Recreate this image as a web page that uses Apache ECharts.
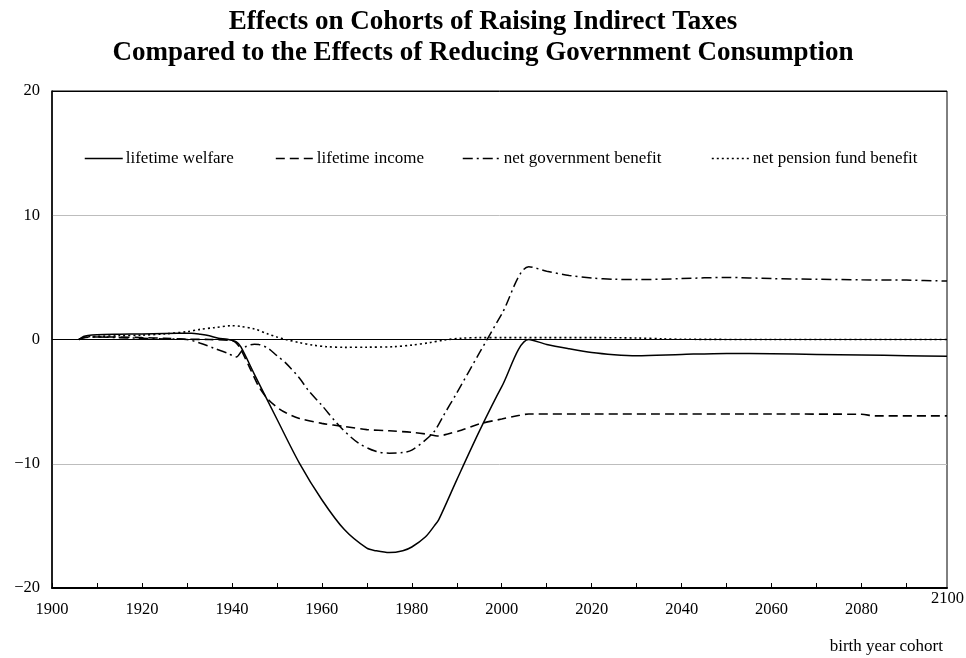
<!DOCTYPE html>
<html>
<head>
<meta charset="utf-8">
<script src="https://cdn.jsdelivr.net/npm/echarts@6/dist/echarts.min.js"></script>
<style>
  html, body { margin: 0; padding: 0; background: #fff; }
  #chart { width: 966px; height: 658px; }
</style>
</head>
<body>
<div id="chart"></div>
<script>
// Cohort effects, percent change, by birth year
const welfareYears = [1906, 1907, 1908, 1910, 1915, 1920, 1925, 1931, 1933, 1935, 1937, 1939, 1941, 1942, 1945, 1950, 1955, 1960, 1965, 1970, 1972, 1975, 1978, 1980, 1983, 1985, 1986, 1990, 1995, 2000, 2006, 2010, 2015, 2020, 2025, 2030, 2040, 2050, 2060, 2070, 2080, 2090, 2099];
const welfareValues = [0, 0.25, 0.33, 0.38, 0.42, 0.45, 0.48, 0.5, 0.42, 0.3, 0.1, 0.02, -0.2, -0.6, -2.8, -6.4, -9.95, -12.9, -15.3, -16.8, -17.0, -17.15, -17.0, -16.7, -15.9, -15.0, -14.5, -11.3, -7.4, -3.8, 0, -0.4, -0.75, -1.05, -1.22, -1.3, -1.2, -1.12, -1.15, -1.2, -1.25, -1.3, -1.35];

const incomeYears = [1906, 1907, 1908, 1915, 1920, 1925, 1930, 1935, 1940, 1941, 1942, 1944, 1946, 1948, 1950, 1952, 1955, 1960, 1965, 1970, 1975, 1980, 1983, 1986, 1988, 1991, 1995, 2000, 2004, 2006, 2020, 2040, 2060, 2080, 2083, 2099];
const incomeValues = [0, 0.15, 0.2, 0.2, 0.15, 0.1, 0.02, 0, -0.1, -0.3, -0.8, -2.3, -3.8, -4.8, -5.45, -5.9, -6.35, -6.75, -7.0, -7.25, -7.35, -7.47, -7.6, -7.77, -7.6, -7.3, -6.8, -6.4, -6.1, -6.0, -6.0, -6.0, -6.0, -6.02, -6.15, -6.15];

const govYears = [1906, 1907, 1910, 1915, 1920, 1925, 1930, 1933, 1936, 1939, 1941, 1942, 1943, 1945, 1946, 1948, 1950, 1952, 1955, 1957, 1960, 1964, 1968, 1972, 1975, 1978, 1980, 1983, 1985, 1987, 1990, 1995, 2000, 2006, 2010, 2015, 2020, 2025, 2030, 2040, 2050, 2060, 2070, 2080, 2090, 2099];
const govValues = [0, 0.15, 0.2, 0.15, 0.1, 0.05, 0, -0.3, -0.7, -1.1, -1.4, -1.0, -0.6, -0.38, -0.4, -0.7, -1.3, -1.9, -3.1, -4.1, -5.3, -7.0, -8.3, -9.0, -9.15, -9.1, -8.9, -8.1, -7.4, -6.15, -4.3, -1.1, 2.05, 5.86, 5.5, 5.15, 4.95, 4.85, 4.82, 4.9, 5.0, 4.9, 4.85, 4.8, 4.78, 4.7];

const pensionYears = [1906, 1907, 1910, 1915, 1920, 1925, 1930, 1933, 1936, 1940, 1942, 1945, 1948, 1950, 1952, 1955, 1958, 1961, 1965, 1970, 1976, 1980, 1984, 1987, 1991, 1995, 2000, 2010, 2020, 2030, 2036, 2040, 2060, 2099];
const pensionValues = [0, 0.2, 0.25, 0.3, 0.35, 0.45, 0.63, 0.82, 0.95, 1.11, 1.05, 0.85, 0.45, 0.2, 0, -0.25, -0.45, -0.58, -0.63, -0.62, -0.58, -0.45, -0.25, -0.05, 0.1, 0.15, 0.15, 0.15, 0.15, 0.12, 0.05, 0.02, 0, 0];

const seriesNames = ['lifetime welfare', 'lifetime income', 'net government benefit', 'net pension fund benefit'];
const xTickLabels = ['1900', '1920', '1940', '1960', '1980', '2000', '2020', '2040', '2060', '2080'];
const lastXLabel = '2100';
const yTickLabels = ['\u221220', '\u221210', '0', '10', '20'];

const FONT = "'Liberation Serif', 'Times New Roman', serif";
const zip = (xs, ys) => xs.map((x, i) => [x, ys[i]]);

const styles = [
  { type: 'solid', width: 1.5 },
  { type: [9, 5], width: 1.6 },
  { type: [10, 4, 2, 4], width: 1.5 },
  { type: [2, 3], width: 1.6 }
];
const dataSets = [
  zip(welfareYears, welfareValues),
  zip(incomeYears, incomeValues),
  zip(govYears, govValues),
  zip(pensionYears, pensionValues)
];
// left edge of each legend entry's sample line
const legendLeft = [79, 270, 457, 706];

const chart = echarts.init(document.getElementById('chart'), null, { renderer: 'canvas' });

chart.setOption({
  animation: false,
  backgroundColor: '#fff',
  title: {
    text: 'Effects on Cohorts of Raising Indirect Taxes\nCompared to the Effects of Reducing Government Consumption',
    left: 'center',
    top: 2,
    textStyle: { fontFamily: FONT, fontSize: 27, fontWeight: 'bold', color: '#000', lineHeight: 31 }
  },
  legend: seriesNames.map((name, i) => ({
    left: legendLeft[i],
    top: 145,
    itemWidth: 38,
    itemHeight: 14,
    itemGap: 0,
    data: [name],
    itemStyle: { opacity: 0 },
    lineStyle: { width: styles[i].width },
    textStyle: { fontFamily: FONT, fontSize: 17, color: '#000', padding: [0, 0, 0, -2] }
  })),
  grid: {
    left: 52,
    right: 19,
    top: 91,
    bottom: 70,
    show: true,
    borderColor: '#000',
    borderWidth: 1
  },
  xAxis: {
    type: 'value',
    min: 1900,
    max: 2099,
    interval: 10,
    axisLine: { show: true, onZero: false, lineStyle: { color: '#000', width: 2 } },
    axisTick: { show: true, inside: true, length: 5, lineStyle: { color: '#000', width: 1 } },
    splitLine: { show: false },
    axisLabel: {
      margin: 13,
      fontFamily: FONT,
      fontSize: 16.5,
      color: '#000',
      showMaxLabel: false,
      formatter: v => {
        const s = String(v);
        return xTickLabels.includes(s) ? s : '';
      }
    }
  },
  yAxis: {
    type: 'value',
    min: -20,
    max: 20,
    interval: 10,
    axisLine: { show: true, lineStyle: { color: '#000', width: 1.5 } },
    axisTick: { show: false },
    splitLine: {
      show: true,
      lineStyle: { color: ['#000', '#bdbdbd', '#000', '#bdbdbd', '#000'], width: 1 }
    },
    axisLabel: {
      margin: 12,
      fontFamily: FONT,
      fontSize: 16.5,
      color: '#000',
      formatter: (v, i) => yTickLabels[i]
    }
  },
  graphic: [
    {
      type: 'text',
      left: 931,
      top: 590,
      style: { text: lastXLabel, font: '16.5px ' + FONT, fill: '#000' }
    },
    {
      type: 'text',
      right: 23,
      top: 638,
      style: { text: 'birth year cohort', font: '17px ' + FONT, fill: '#000' }
    }
  ],
  series: seriesNames.map((name, i) => ({
    name,
    type: 'line',
    data: dataSets[i],
    showSymbol: false,
    symbol: 'none',
    smooth: 0.3,
    color: '#000',
    lineStyle: { color: '#000', width: styles[i].width, type: styles[i].type },
    z: 3
  }))
});
</script>
</body>
</html>
